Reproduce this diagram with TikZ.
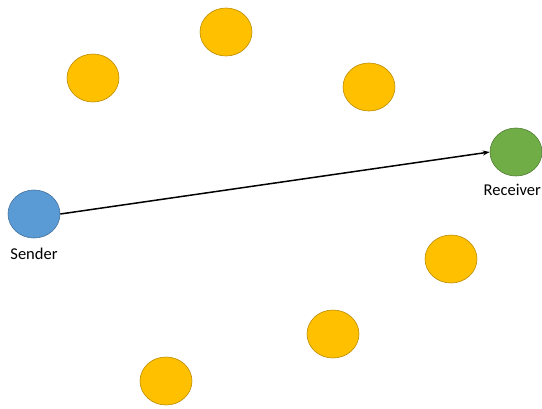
\documentclass[tikz,border=0pt]{standalone}
\usepackage{fontspec}
\setmainfont{Carlito}
\usetikzlibrary{arrows.meta,shapes.geometric}
\definecolor{bluefill}{HTML}{5B9BD5}
\definecolor{blueline}{HTML}{41719C}
\definecolor{greenfill}{HTML}{70AD47}
\definecolor{greenline}{HTML}{507E32}
\definecolor{orangefill}{HTML}{FFC000}
\definecolor{orangeline}{HTML}{BC8C00}
\begin{document}
\begin{tikzpicture}[x=1pt,y=-1pt,
  dot/.style={ellipse,draw,line width=0.6pt,minimum width=52pt,minimum height=48pt,inner sep=0pt},
  peer/.style={dot,fill=orangefill,draw=orangeline},
  lbl/.style={font=\fontsize{16.5}{18}\selectfont,inner sep=0pt}]
\useasboundingbox (0,0) rectangle (542,408);
\node[dot,fill=bluefill,draw=blueline] (s) at (34,214) {};
\node[dot,fill=greenfill,draw=greenline] (r) at (516,152) {};
\node[peer] (p1) at (226,32) {};
\node[peer] (p2) at (93,78) {};
\node[peer] (p3) at (369,87) {};
\node[peer] (p4) at (451,259) {};
\node[peer] (p5) at (333,334) {};
\node[peer] (p6) at (166,381) {};
\node[lbl] (ls) at (34,254) {Sender};
\node[lbl,anchor=east] (lr) at (541,190) {Receiver};
\draw[line width=1.5pt,-{Stealth[length=7pt,width=5pt]}] (s.east) -- (r.west);
\end{tikzpicture}
\end{document}
